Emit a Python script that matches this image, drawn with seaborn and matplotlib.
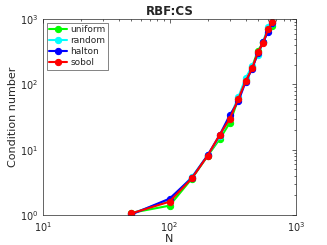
import numpy as np
import pandas as pd
import matplotlib
matplotlib.use("Agg")
import matplotlib.pyplot as plt
import seaborn as sns

N = [50, 100, 150, 200, 250, 300, 350, 400, 450, 500, 550, 600, 650]
uniform = [1.08, 1.39, 3.6, 8.0, 14.7, 25.9, 60, 117, 186, 327, 440, 700, 790]
random_ = [1.05, 1.70, 3.8, 8.2, 16.0, 31.0, 64, 125, 190, 280, 445, 760, 880]
halton = [1.02, 1.78, 3.7, 8.2, 17.0, 34.0, 55, 110, 172, 305, 440, 640, 860]
sobol = [1.06, 1.60, 3.64, 8.1, 17.0, 30.0, 60, 112, 176, 309, 435, 694, 890]
names = ["uniform", "random", "halton", "sobol"]
colors = ["#00ff00", "#00ffff", "#0000ff", "#ff0000"]

df = pd.concat([
    pd.DataFrame({"N": N, "cond": v, "method": n})
    for n, v in zip(names, [uniform, random_, halton, sobol])
])

sns.set_style("white")
plt.rcParams["font.family"] = ["DejaVu Sans"]

fig = plt.figure(figsize=(3.27, 2.45), dpi=100)
ax = fig.add_axes([0.1315, 0.1224, 0.7737, 0.7996])

for n, c in zip(names, colors):
    sub = df[df["method"] == n]
    sns.lineplot(data=sub, x="N", y="cond", ax=ax, color=c, marker="o",
                 markersize=4.5, markeredgecolor=c, markerfacecolor=c,
                 linewidth=1.5, label=n)

ax.set_xscale("log")
ax.set_yscale("log")
ax.set_xlim(10, 1000)
ax.set_ylim(1, 1000)
ax.set_xticks([10, 100, 1000])
ax.set_yticks([1, 10, 100, 1000])
ax.tick_params(which="both", direction="in", top=True, right=True,
               labelsize=7, colors="#262626", length=3, width=0.5)
ax.tick_params(which="minor", length=1.7)
for s in ax.spines.values():
    s.set_color("#262626")
    s.set_linewidth(0.5)
ax.set_xlabel("N", fontsize=8, labelpad=0)
ax.set_ylabel("Condition number", fontsize=8, labelpad=1)
ax.set_title("RBF:CS", fontsize=8.5, fontweight="bold", pad=3)
leg = ax.legend(loc="upper left", fontsize=6.5, frameon=True, fancybox=False,
                edgecolor="#262626", borderpad=0.3, labelspacing=0.2,
                handlelength=2.0, handletextpad=0.3, borderaxespad=0.4)
leg.get_frame().set_linewidth(0.5)

fig.savefig("out.png", dpi=100)
